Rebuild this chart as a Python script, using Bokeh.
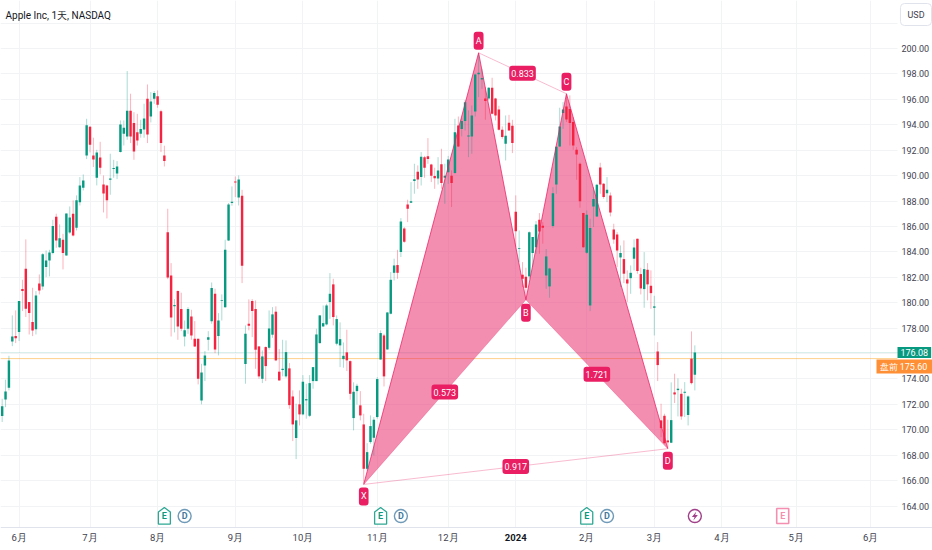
from bokeh.plotting import figure
from bokeh.models import ColumnDataSource, FixedTicker, Label
from bokeh.core.properties import value
from bokeh.embed import file_html
from bokeh.resources import INLINE

opens = [171.08,172.39,173.31,176.95,177.37,177.69,181.07,182.67,180.05,178.47,
 177.90,181.51,181.28,182.80,183.32,183.90,186.76,184.37,184.95,183.72,
 185.53,187.00,185.89,187.91,189.04,191.59,193.84,191.59,189.83,191.43,
 189.30,189.23,189.67,190.51,190.17,191.85,193.29,193.08,195.10,194.13,
 193.42,193.29,193.63,196.04,194.65,196.04,196.25,195.07,191.59,185.55,
 182.14,179.71,180.91,179.50,177.34,177.95,178.92,177.16,177.16,172.31,
 175.06,177.08,178.53,180.70,177.37,180.13,179.65,184.90,187.84,189.54,
 188.28,188.41,175.17,178.34,180.13,179.50,176.56,174.01,176.51,176.45,
 177.48,179.29,174.57,174.70,174.20,174.83,172.62,169.35,172.00,171.21,
 172.31,171.10,173.83,173.83,176.82,178.13,178.29,180.05,181.44,176.77,
 176.64,175.56,176.09,175.40,170.92,173.04,171.92,170.42,166.93,169.03,
 169.37,171.00,175.53,177.42,176.32,179.13,182.35,182.96,183.98,185.84,
 187.73,187.86,189.57,190.30,189.88,191.45,191.53,190.88,189.96,189.78,
 190.90,189.83,190.27,189.99,190.20,193.95,193.66,194.29,193.08,193.08,
 195.05,197.98,197.56,196.07,196.07,196.91,196.07,195.20,193.60,192.50,
 194.16,193.92,187.15,184.22,182.20,182.04,182.07,183.90,184.37,186.52,
 186.05,182.14,181.28,186.03,189.30,192.29,194.92,195.44,195.23,194.21,
 192.03,190.93,187.05,183.93,179.78,187.57,186.79,190.64,189.35,188.62,
 188.44,185.76,185.37,183.56,183.43,181.83,181.93,183.46,185.03,182.25,
 181.07,182.59,181.33,179.60,176.16,170.74,171.10,169.16,168.98,172.94,
 173.12,172.83,172.91,171.16,175.59,174.33]
highs = [172.44,173.94,175.82,179.00,179.39,180.13,181.80,184.98,180.05,181.17,
 180.91,182.22,183.90,184.11,184.16,186.52,187.00,186.16,185.42,187.02,
 187.57,188.05,188.44,189.88,190.09,194.47,193.89,192.98,192.03,192.66,
 190.01,189.28,191.72,191.24,191.14,194.34,194.34,198.22,196.44,194.99,
 194.86,194.39,195.65,197.17,196.57,196.65,196.70,195.18,192.35,187.39,
 183.11,180.28,180.96,180.78,178.60,179.65,179.44,178.55,177.16,175.19,
 176.19,177.76,181.59,181.10,179.18,180.65,184.95,187.84,189.15,189.93,
 190.01,188.88,178.21,180.26,180.28,180.18,176.56,176.24,176.56,179.39,
 179.65,179.71,176.35,177.08,177.03,175.25,173.10,172.05,173.10,174.30,
 173.62,174.30,174.93,177.95,179.00,179.78,179.91,182.33,181.88,179.00,
 178.45,176.87,177.87,175.46,173.73,173.62,173.04,171.26,168.95,171.13,
 171.00,174.14,177.82,177.55,179.26,182.41,183.46,184.16,186.65,185.95,
 188.10,189.49,190.93,190.80,191.85,191.55,192.95,190.93,190.62,191.45,
 192.11,190.93,191.55,190.41,194.47,194.65,194.55,195.96,195.13,195.52,
 198.01,199.58,198.40,196.96,196.96,197.70,196.12,195.49,193.87,194.73,
 194.78,194.39,188.44,185.68,183.19,182.75,185.61,185.16,186.42,187.05,
 186.34,184.22,182.75,189.09,192.29,195.34,195.78,196.38,196.31,194.60,
 192.24,191.03,187.07,187.26,186.60,189.09,189.35,191.01,189.41,189.88,
 188.67,186.21,185.55,184.50,184.90,182.54,182.93,184.98,185.03,182.75,
 183.98,183.11,182.54,180.54,176.90,172.05,171.26,170.79,173.73,174.41,
 174.04,173.23,173.75,172.70,177.74,176.64]
lows = [170.61,171.78,173.10,176.58,176.82,176.98,179.34,178.87,177.50,177.37,
 177.50,180.65,181.02,182.01,182.07,183.80,184.32,184.32,182.62,183.69,
 185.42,185.21,185.68,187.65,188.83,191.30,191.82,190.67,189.23,190.09,
 187.10,186.63,188.49,189.83,189.72,191.82,192.37,192.82,192.56,191.24,
 192.37,192.98,192.98,192.56,194.18,195.65,195.34,191.85,190.72,181.85,
 177.34,177.66,177.08,177.76,176.56,177.55,177.08,176.51,173.57,172.00,
 173.83,176.24,178.34,176.03,175.85,178.60,179.60,184.85,187.63,188.31,
 187.65,181.54,173.62,177.82,177.29,174.80,174.01,173.67,173.83,176.30,
 177.24,175.40,173.88,174.20,174.09,171.65,169.11,167.69,170.34,171.13,
 170.87,171.00,173.23,173.83,176.77,178.08,178.21,178.73,178.21,176.64,
 174.93,174.88,174.62,172.36,169.95,171.99,170.74,165.75,166.80,168.90,
 167.98,170.87,175.51,173.41,176.30,179.08,181.75,181.88,183.59,184.71,
 186.34,187.84,188.57,188.96,189.22,189.83,190.93,189.49,188.96,189.30,
 188.96,187.78,189.35,187.52,190.14,192.24,193.08,193.55,191.45,191.72,
 194.65,196.17,196.83,194.39,195.91,194.81,194.34,193.55,192.90,191.19,
 193.55,191.77,184.37,183.19,181.23,180.31,181.88,182.80,183.85,183.85,
 184.64,181.09,180.39,185.89,188.57,192.24,193.68,194.21,192.37,192.03,
 189.67,187.47,184.32,183.85,179.34,185.95,186.73,188.57,188.18,187.91,
 186.79,184.64,182.80,181.23,181.54,180.05,180.70,182.54,182.28,180.65,
 179.60,180.18,179.52,177.42,173.83,169.42,168.90,168.55,168.95,172.10,
 171.05,170.79,171.00,170.34,173.57,173.10]
closes = [171.86,173.02,175.46,177.34,177.21,180.13,180.91,179.52,179.18,177.82,
 180.57,180.96,183.82,183.32,183.95,186.03,184.90,185.06,183.90,187.02,
 186.71,185.29,188.05,189.23,189.62,193.97,192.42,191.27,191.82,190.62,
 188.60,188.05,189.78,190.59,190.72,194.02,193.76,195.10,193.08,191.90,
 192.77,193.66,194.50,193.24,195.83,196.49,195.57,192.56,191.14,181.99,
 178.84,179.81,178.13,177.95,177.84,179.50,177.42,176.56,174.01,174.51,
 175.85,177.27,181.15,176.32,178.60,180.20,184.16,187.73,187.94,189.46,
 189.70,182.90,177.55,178.19,179.34,176.30,174.20,175.77,175.01,177.97,
 179.08,175.46,173.88,174.80,176.11,171.94,170.42,170.74,171.21,173.78,
 172.41,173.67,174.93,177.50,179.00,178.39,179.78,180.70,178.87,178.71,
 177.13,175.82,175.46,172.83,172.99,173.46,171.13,166.93,168.24,170.29,
 170.79,173.99,177.61,174.20,179.23,181.80,182.93,182.35,186.39,184.79,
 187.39,187.99,189.72,189.70,191.48,190.62,191.30,189.99,189.80,190.41,
 189.41,189.99,191.27,189.41,193.42,192.29,194.29,195.78,193.16,194.73,
 197.96,198.09,197.67,195.86,196.91,194.86,194.73,193.60,193.03,193.13,
 193.55,192.56,185.63,184.29,181.88,181.17,185.55,185.16,186.16,185.61,
 185.89,183.64,182.69,188.62,192.27,193.87,195.20,194.42,194.13,192.37,
 191.66,187.99,184.37,186.92,185.87,188.15,189.28,189.30,188.31,188.88,
 187.10,184.98,184.11,183.90,182.28,181.51,182.35,184.35,182.49,181.12,
 182.64,181.44,180.75,179.71,175.09,170.13,168.95,169.01,170.76,172.78,
 173.23,171.05,172.99,172.62,173.67,176.08]

month_bars = [5, 26, 46, 69, 89, 111, 132, 152, 173, 193, 213, 235, 257]
month_labels = ["6月", "7月", "8月", "9月", "10月", "11月", "12月", "2024", "2月", "3月", "4月", "5月", "6月"]
price_ticks = [164, 166, 168, 170, 172, 174, 176, 178, 180, 182, 184, 186, 188, 190, 192, 194, 196, 198, 200]
grid_prices = price_ticks + [202]

pattern_names = ["X", "A", "B", "C", "D"]
pattern_bars = [107, 141, 155, 167, 197]
pattern_prices = [165.70, 199.66, 180.23, 196.44, 168.51]
ratio_labels = ["0.573", "0.833", "1.721", "0.917"]
last_price = 176.08
pre_price = 175.60
earn_bars = [48, 112, 173]
div_bars = [54, 118, 179]
flash_bar = 205
next_earn_bar = [231]

assert len(opens) == len(highs) == len(lows) == len(closes) == 206

GREEN, RED, PINK = "#089981", "#f5233f", "#e91e63"
AXIS_FONT = "Roboto"
TEXT = "#3f434f"
PX_X, PX_Y = 3.379, 12.71
X0, X_PANE, X1 = -0.494, 264.97, 275.33
Y0, Y_PANE, Y1 = 160.50, 162.31, 203.777

p = figure(width=932, height=550, x_range=(X0, X1), y_range=(Y0, Y1),
           y_axis_location="right", output_backend="svg", toolbar_location=None,
           min_border=0, outline_line_color=None, background_fill_color="white")

for g, t in ((p.xgrid, month_bars), (p.ygrid, grid_prices)):
    g.ticker = FixedTicker(ticks=t)
    g.grid_line_color = "#f2f3f5"
    g.grid_line_width = 1

# axes sit inside the full-page frame, at the edge of the price pane
xa, ya = p.xaxis[0], p.yaxis[0]
xa.fixed_location = Y_PANE
ya.fixed_location = X_PANE
xa.ticker = FixedTicker(ticks=month_bars)
xa.major_label_overrides = {b: ("" if l == "2024" else l) for b, l in zip(month_bars, month_labels)}
xa.axis_line_color = "#e0e3eb"
xa.major_label_text_font_size = "9.5px"
xa.major_label_standoff = 5
ya.ticker = FixedTicker(ticks=price_ticks)
ya.major_label_overrides = {t: f"{t:.2f}" for t in price_ticks}
ya.axis_line_color = None
ya.major_label_text_font_size = "9px"
ya.major_label_standoff = 4
for a in (xa, ya):
    a.major_tick_line_color = None
    a.minor_tick_line_color = None
    a.major_tick_in = a.major_tick_out = 0
    a.minor_tick_in = a.minor_tick_out = 0
    a.major_label_text_font = AXIS_FONT
    a.major_label_text_color = TEXT

# blank the scale strips so that the grid stops at the pane
p.quad(left=[X_PANE, X0], right=[X1, X1], bottom=[Y0, Y0], top=[Y1, Y_PANE], fill_color="white", line_color=None)

p.segment([X0], [last_price], [X_PANE], [last_price], line_color=GREEN, line_alpha=0.3, line_dash="1 1", line_width=1)
p.segment([X0], [pre_price], [X_PANE], [pre_price], line_color="#ff9800", line_alpha=0.45, line_width=1)

# harmonic pattern fill lies under the candles
px, py = pattern_bars, pattern_prices
p.patch([px[0], px[1], px[2]], [py[0], py[1], py[2]], fill_color=PINK, fill_alpha=0.5, line_color=None)
p.patch([px[2], px[3], px[4]], [py[2], py[3], py[4]], fill_color=PINK, fill_alpha=0.5, line_color=None)

idx = list(range(len(opens)))
src = ColumnDataSource(dict(
    x=idx, h=highs, l=lows,
    top=[max(o, c) for o, c in zip(opens, closes)],
    bot=[min(o, c) for o, c in zip(opens, closes)],
    color=[GREEN if c >= o else RED for o, c in zip(opens, closes)]))
p.segment("x", "h", "x", "l", source=src, line_color="color", line_alpha=0.35, line_width=1)
p.vbar("x", 0.72, "bot", "top", source=src, fill_color="color", line_color=None)

p.line(px, py, line_color=PINK, line_alpha=0.75, line_width=1)
ratio_pairs = [(0, 2), (1, 3), (2, 4), (0, 4)]
for a, b in ratio_pairs:
    p.line([px[a], px[b]], [py[a], py[b]], line_color=PINK, line_alpha=0.3, line_width=1)
box = dict(text_color="white", text_align="center", text_baseline="middle",
           text_font=value(AXIS_FONT), text_font_size="9px",
           background_fill_color=PINK, border_radius=3, padding=(2, 4))
p.text(px, py, text=pattern_names, y_offset=[12, -12, 13, -12, 12], **box)
p.text([(px[a] + px[b]) / 2 for a, b in ratio_pairs], [(py[a] + py[b]) / 2 for a, b in ratio_pairs],
       text=ratio_labels, **box)

# event markers
ev_y = 163.21
def tag(bars, line, fill):
    shape = [(-6, 8), (-6, -4), (0, -8.5), (6, -4), (6, 8)]
    p.patches([[b + dx / PX_X for dx, _ in shape] for b in bars],
              [[ev_y - dy / PX_Y for _, dy in shape] for b in bars],
              fill_color=fill, line_color=line, line_alpha=0.85, line_width=1.3)
    p.text(bars, [ev_y] * len(bars), text=["E"] * len(bars), text_color=line, text_align="center",
           text_baseline="middle", text_font=value("Roboto"), text_font_size="9px", text_font_style="bold")
tag(earn_bars, GREEN, "white")
p.scatter(div_bars, [ev_y] * 3, marker="circle", size=13, fill_color="white", line_color="#6f9ab8", line_width=1.4)
p.text(div_bars, [ev_y] * 3, text=["D"] * 3, text_color="#3f7a9e", text_align="center", text_baseline="middle",
       text_font=value("Roboto"), text_font_size="9px", text_font_style="bold")
p.scatter([flash_bar], [ev_y], marker="circle", size=13, fill_color="white", line_color="#a1408a", line_width=1.4)
bolt = [(1.5, -4.5), (-3, 1), (-0.3, 1), (-1.5, 4.5), (3, -1), (0.3, -1)]
p.patch([flash_bar + dx / PX_X for dx, _ in bolt], [ev_y - dy / PX_Y for _, dy in bolt],
        fill_color="#a1408a", line_color=None)
p.rect(next_earn_bar, [ev_y], width=12, height=15, width_units="screen", height_units="screen",
       fill_color="white", line_color="#f48fb1", line_width=1.6)
p.text(next_earn_bar, [ev_y], text=["E"], text_color="#f48fb1", text_align="center", text_baseline="middle",
       text_font=value("Roboto"), text_font_size="9px", text_font_style="bold")

# bold year tick label, title, currency, price tags
p.add_layout(Label(x=month_bars[7], y=13, y_units="screen", text="2024", text_align="center", text_baseline="middle",
                   text_font=AXIS_FONT, text_font_size="9.5px", text_font_style="bold", text_color="#131722"))
p.add_layout(Label(x=5, y=535, x_units="screen", y_units="screen", text="Apple Inc, 1天, NASDAQ",
                   text_font=AXIS_FONT, text_font_size="10px", text_color="#131722",
                   text_baseline="middle"))
p.add_layout(Label(x=915.5, y=536, x_units="screen", y_units="screen", text="USD", text_align="center",
                   text_baseline="middle", text_font=AXIS_FONT, text_font_size="9px", text_color=TEXT,
                   background_fill_color="white", border_line_color="#e0e3eb", border_radius=4, padding=(7, 6)))
p.add_layout(Label(x=897, y=last_price, x_units="screen", text=f"{last_price:.2f}", text_baseline="middle",
                   text_font=AXIS_FONT, text_font_size="9px", text_color="white",
                   background_fill_color=GREEN, padding=(3, 2)))
p.add_layout(Label(x=876, y=pre_price, y_offset=-8, x_units="screen", text=f"盘前    {pre_price:.2f}", text_baseline="middle",
                   text_font=AXIS_FONT, text_font_size="9px", text_color="white",
                   background_fill_color="#ff8f34", padding=(3, 2)))

open("out.html", "w").write(file_html(p, INLINE))
